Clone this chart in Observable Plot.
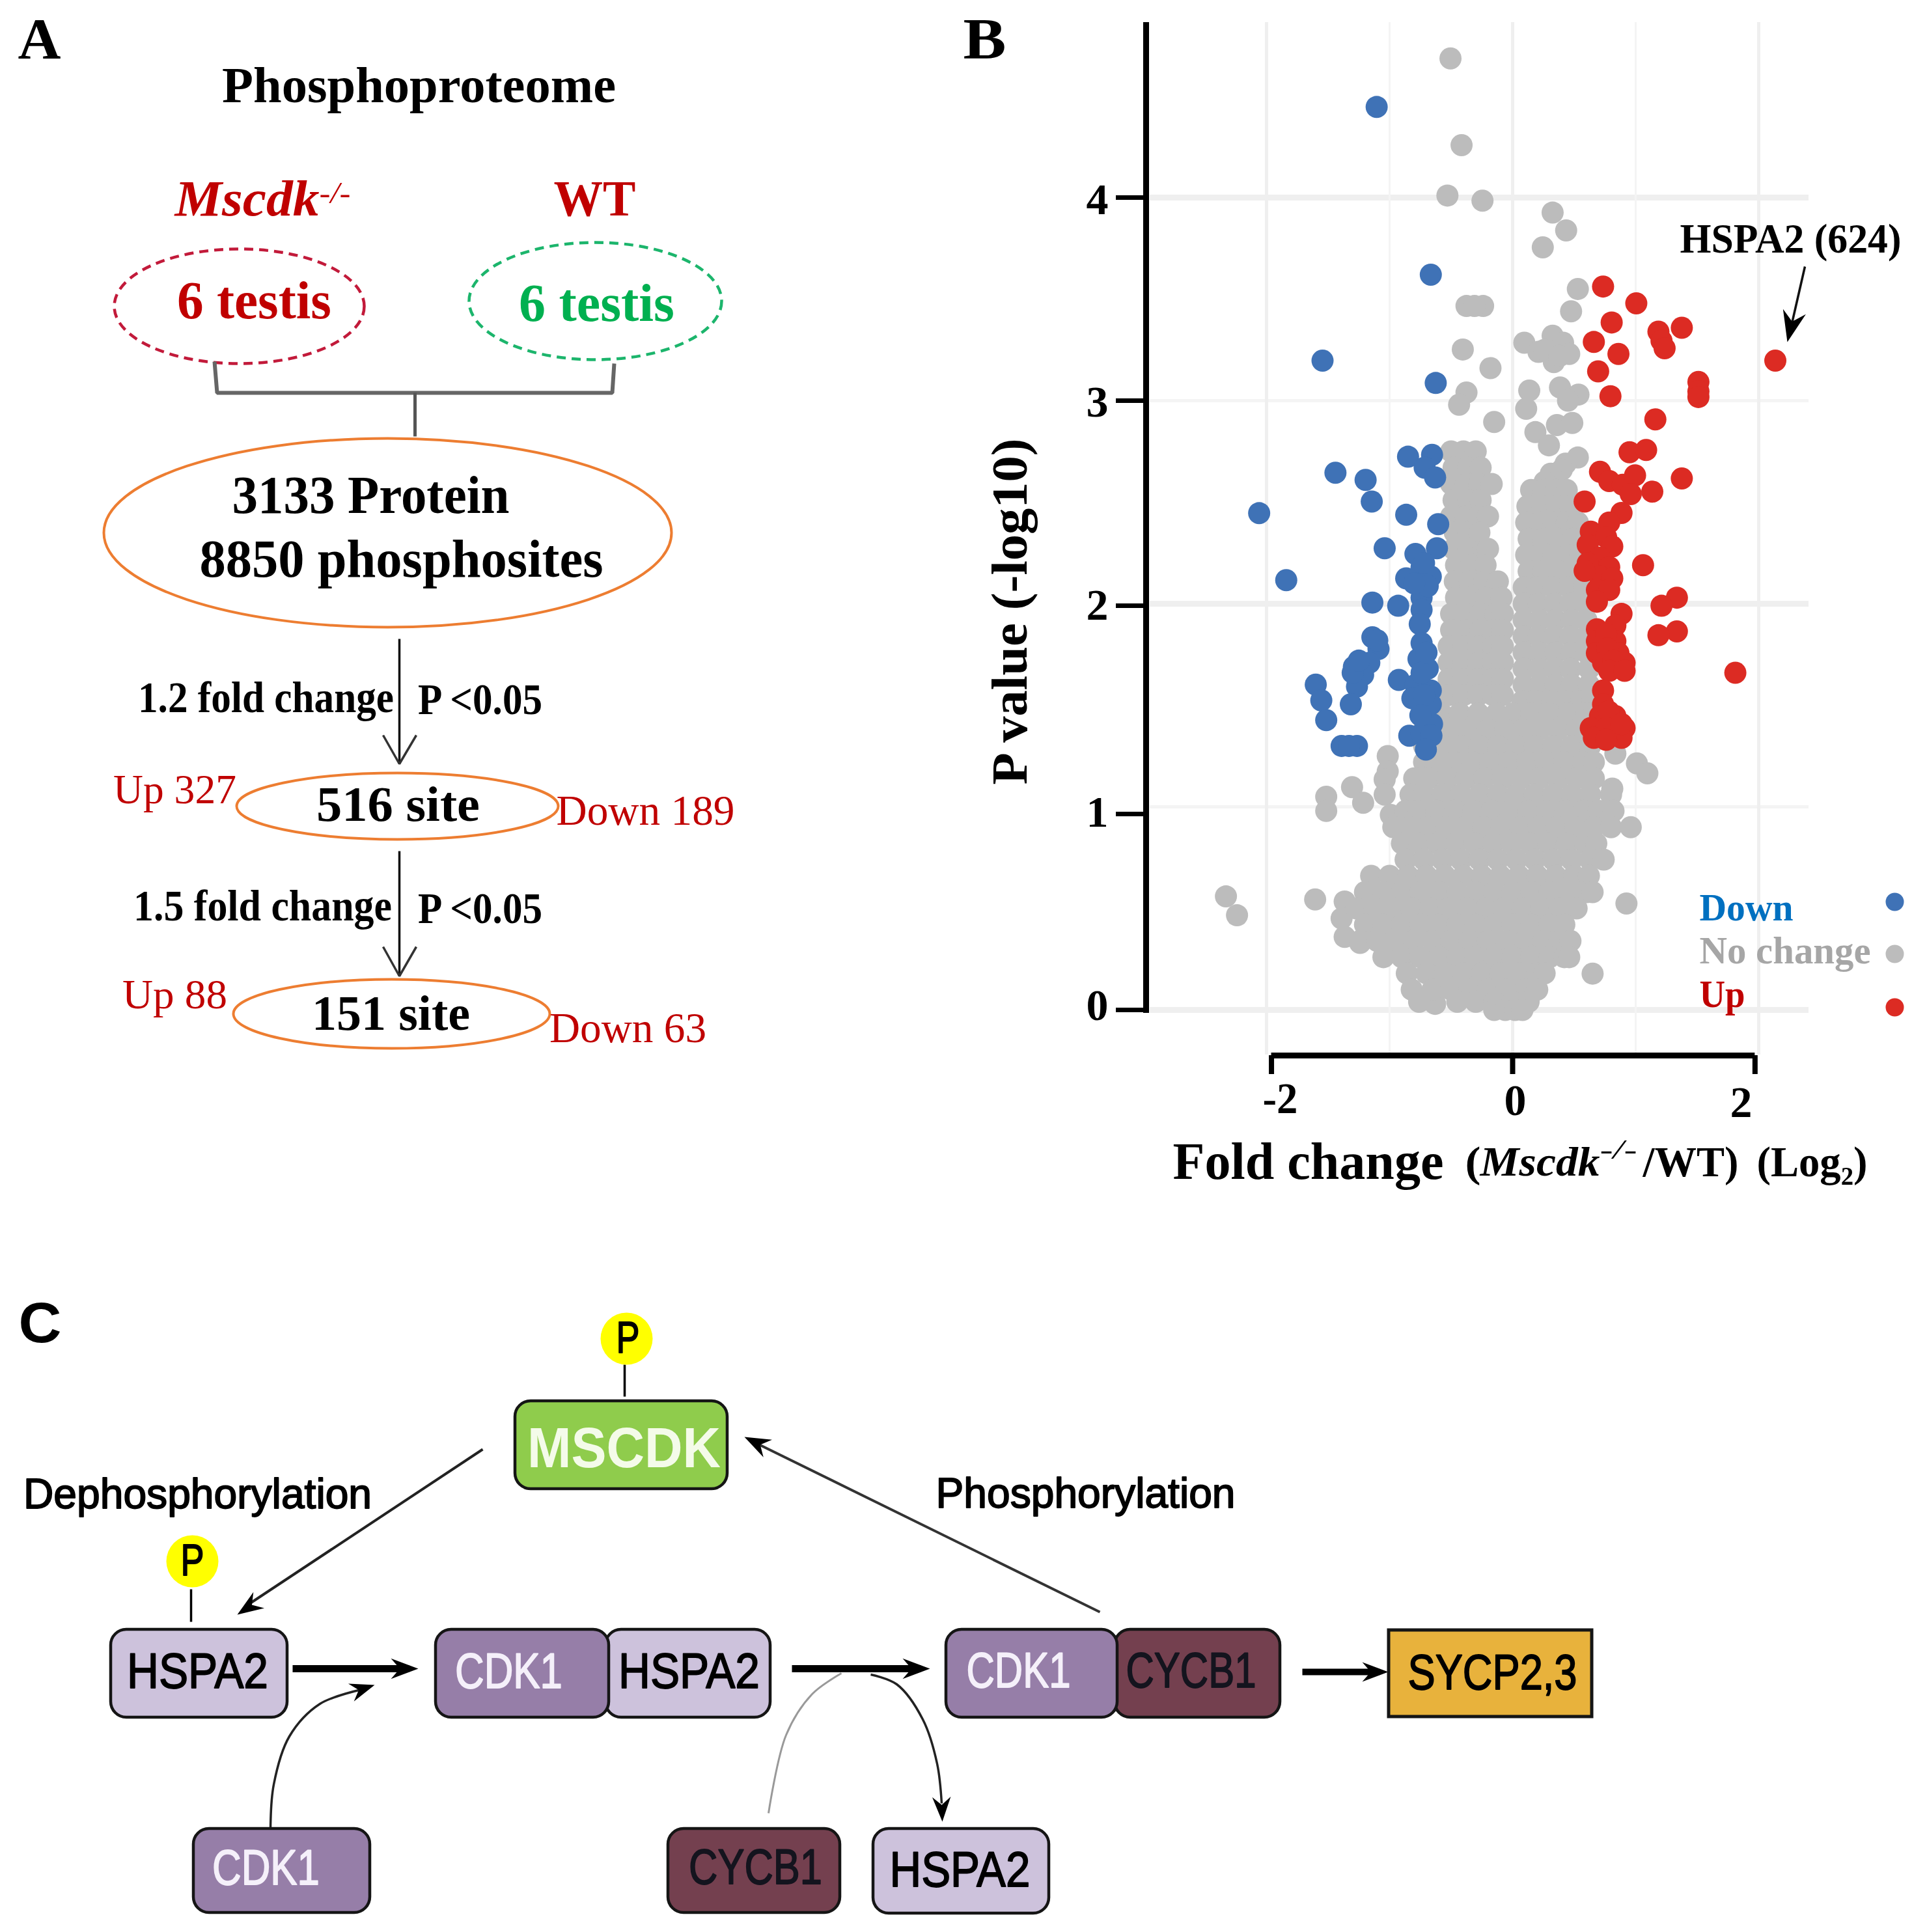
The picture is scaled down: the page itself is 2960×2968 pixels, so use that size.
<!DOCTYPE html>
<html>
<head>
<meta charset="utf-8">
<script src="https://cdn.jsdelivr.net/npm/d3@7"></script>
<script src="https://cdn.jsdelivr.net/npm/@observablehq/plot@0.6"></script>
<style>
html,body{margin:0;padding:0;background:#fff}
svg{display:block}
</style>
</head>
<body>
<div id="chart"></div>
<script>
// ---------- volcano values: [log2 fold change, -log10 P] ----------
const downSites = [[-1.105,4.446],[-0.665,3.62],[-1.545,3.197],[-0.625,3.087],[-0.85,2.724],[-0.655,2.733],[-0.715,2.67],[-0.63,2.622],[-1.44,2.645],[-1.195,2.61],[-1.145,2.503],[-2.06,2.446],[-0.865,2.438],[-0.605,2.392],[-0.615,2.273],[-1.04,2.273],[-0.79,2.245],[-0.74,2.18],[-0.865,2.125],[-0.665,2.134],[-1.84,2.116],[-1.14,2.006],[-0.93,1.99],[-0.74,2.03],[-0.69,2.087],[-0.74,1.97],[-0.755,1.9],[-1.14,1.835],[-1.09,1.777],[-0.74,1.806],[-0.765,1.728],[-0.69,1.68],[-1.29,1.69],[-1.165,1.709],[-1.215,1.65],[-1.265,1.592],[-1.315,1.505],[-1.6,1.602],[-1.555,1.524],[-1.515,1.427],[-1.39,1.3],[-1.265,1.3],[-1.33,1.3],[-0.925,1.625],[-0.79,1.6],[-0.665,1.573],[-0.815,1.534],[-0.665,1.505],[-0.72,1.55],[-0.655,1.408],[-0.84,1.35],[-0.74,1.36],[-0.66,1.35],[-0.705,1.282],[-1.3,1.66],[-1.25,1.72],[-1.1,1.82],[-0.74,1.66],[-0.75,1.45],[-0.7,1.76],[-0.8,2.1],[-0.72,2.2]];
const upSites = [[0.735,3.562],[1.005,3.479],[0.805,3.385],[1.185,3.34],[1.375,3.359],[0.66,3.289],[1.21,3.295],[1.235,3.258],[0.86,3.23],[0.695,3.144],[2.135,3.197],[1.51,3.092],[1.51,3.046],[1.51,3.018],[0.795,3.022],[1.16,2.908],[0.95,2.746],[1.085,2.757],[1.375,2.617],[0.71,2.65],[0.785,2.604],[0.895,2.586],[0.995,2.632],[0.96,2.54],[1.135,2.552],[0.585,2.503],[0.885,2.447],[0.785,2.4],[0.635,2.355],[0.76,2.328],[0.81,2.282],[0.61,2.29],[0.71,2.227],[0.61,2.199],[0.785,2.18],[1.06,2.19],[0.71,2.134],[0.585,2.162],[0.81,2.125],[0.685,2.068],[0.785,2.068],[1.335,2.03],[1.21,1.99],[0.885,1.95],[0.685,2.01],[0.835,1.893],[0.685,1.874],[1.335,1.864],[1.185,1.845],[0.685,1.816],[0.835,1.816],[0.76,1.85],[0.685,1.757],[0.86,1.757],[0.77,1.78],[0.735,1.709],[0.91,1.709],[0.82,1.72],[0.785,1.67],[0.91,1.67],[1.81,1.66],[0.735,1.573],[0.735,1.505],[0.71,1.447],[0.835,1.447],[0.78,1.47],[0.635,1.388],[0.91,1.388],[0.76,1.388],[0.66,1.34],[0.885,1.34],[0.76,1.33],[0.885,1.408]];
const noChangeScattered = [[-0.505,4.685],[-0.415,4.258],[-0.53,4.01],[-0.245,3.985],[0.325,3.926],[0.435,3.838],[0.245,3.755],[0.53,3.55],[0.475,3.44],[-0.375,3.466],[-0.24,3.466],[-0.31,3.466],[-0.405,3.252],[-0.18,3.16],[0.095,3.285],[0.21,3.24],[0.325,3.32],[0.41,3.285],[0.46,3.23],[0.335,3.19],[0.26,3.25],[0.38,3.22],[0.385,3.065],[0.535,3.03],[0.45,3.0],[0.135,3.05],[0.11,2.96],[-0.375,3.04],[-0.435,2.98],[-0.15,2.895],[0.185,2.845],[0.36,2.88],[0.485,2.89],[0.295,2.78],[0.53,2.72],[0.43,2.69],[0.4,2.66],[0.31,2.64],[0.26,2.6],[-2.33,0.559],[-2.24,0.466],[-1.605,0.544],[-1.365,0.534],[-1.39,0.45],[-1.365,0.36],[-1.24,0.33],[-1.515,1.05],[-1.515,0.98],[-1.305,1.097],[-1.215,1.02],[-1.015,1.25],[-1.015,1.175],[-1.04,1.135],[-1.04,1.06],[-0.99,0.96],[0.925,0.524],[0.65,0.179],[0.835,1.262],[1.01,1.214],[1.095,1.165],[0.81,1.09],[-0.63,0.03]];
const noChangeRows = [
[2.75,-0.5,-0.4,-0.3],[2.67,-0.48,-0.36,-0.26],[2.59,-0.5,-0.38,-0.27,-0.17],[2.51,-0.48,-0.36,-0.26],[2.43,-0.5,-0.38,-0.28,-0.2],[2.35,-0.47,-0.36,-0.27],[2.27,-0.48,-0.36,-0.24,-0.2],[2.19,-0.46,-0.34,-0.22],[2.11,-0.47,-0.35,-0.23,-0.12],[2.03,-0.46,-0.34,-0.22,-0.09],[1.95,-0.5,-0.38,-0.26,-0.14,-0.08],[1.87,-0.5,-0.38,-0.26,-0.16,-0.08],[1.79,-0.52,-0.4,-0.28,-0.16,-0.08],[1.71,-0.52,-0.4,-0.28,-0.16,-0.08],[1.63,-0.52,-0.4,-0.28,-0.16,-0.08],[1.55,-0.52,-0.4,-0.28,-0.16,-0.08],
[2.56,0.15,0.25,0.35,0.44],[2.48,0.12,0.24,0.36,0.47],[2.4,0.11,0.22,0.33,0.44,0.53],[2.32,0.13,0.25,0.37,0.49],[2.24,0.11,0.22,0.33,0.44,0.55],[2.16,0.13,0.25,0.37,0.49,0.56],[2.08,0.09,0.2,0.33,0.46,0.58],[2.0,0.09,0.21,0.34,0.47,0.6],[1.92,0.09,0.22,0.35,0.48,0.6],[1.84,0.09,0.21,0.34,0.47,0.6],[1.76,0.09,0.22,0.35,0.48,0.6],[1.68,0.09,0.21,0.34,0.47,0.62],[1.6,0.09,0.22,0.35,0.48,0.62],[1.52,0.08,0.2,0.32,0.44,0.56,0.65],
[1.46,-0.7,-0.58,-0.43,-0.28,-0.13,0.01,0.15,0.3,0.45,0.6,0.66],[1.38,-0.72,-0.65,-0.5,-0.35,-0.2,-0.06,0.08,0.22,0.37,0.52,0.65],[1.3,-0.72,-0.57,-0.42,-0.27,-0.12,0.03,0.18,0.33,0.48,0.63],[1.22,-0.72,-0.63,-0.48,-0.33,-0.18,-0.03,0.12,0.27,0.42,0.57,0.66],[1.14,-0.8,-0.68,-0.53,-0.38,-0.23,-0.08,0.07,0.22,0.37,0.52,0.66],[1.06,-0.83,-0.72,-0.57,-0.42,-0.27,-0.12,0.03,0.18,0.33,0.48,0.63,0.8],[0.98,-0.87,-0.77,-0.62,-0.47,-0.32,-0.17,-0.02,0.13,0.28,0.43,0.58,0.7,0.82],[0.9,-0.97,-0.84,-0.69,-0.54,-0.39,-0.24,-0.09,0.06,0.21,0.36,0.51,0.66,0.8,0.96],[0.82,-0.9,-0.76,-0.61,-0.46,-0.31,-0.16,-0.01,0.14,0.29,0.44,0.59,0.68],[0.74,-0.87,-0.72,-0.57,-0.42,-0.27,-0.12,0.03,0.18,0.33,0.48,0.63,0.74],[0.66,-1.15,-1.0,-0.85,-0.7,-0.55,-0.4,-0.25,-0.1,0.05,0.2,0.35,0.5,0.62],[0.58,-1.2,-1.05,-0.9,-0.75,-0.6,-0.45,-0.3,-0.15,0,0.15,0.3,0.45,0.6,0.65],[0.5,-1.27,-1.12,-0.97,-0.82,-0.67,-0.52,-0.37,-0.22,-0.07,0.08,0.23,0.38,0.52],[0.42,-1.2,-1.05,-0.9,-0.75,-0.6,-0.45,-0.3,-0.15,0,0.15,0.3,0.42],[0.34,-1.24,-1.1,-0.95,-0.8,-0.65,-0.5,-0.35,-0.2,-0.05,0.1,0.25,0.38,0.47],[0.26,-1.05,-0.9,-0.75,-0.6,-0.45,-0.3,-0.15,0,0.15,0.3,0.42,0.46],[0.18,-0.86,-0.7,-0.55,-0.4,-0.25,-0.1,0.05,0.2,0.26],[0.1,-0.82,-0.65,-0.5,-0.35,-0.2,-0.05,0.1,0.2],[0.04,-0.76,-0.45,-0.3,-0.15,0,0.13],[0,-0.15,-0.06,0.02,0.08]
];
const noChangeSites = noChangeScattered.concat(noChangeRows.flatMap(([y,...xs]) => xs.map(x => [x,y])));

const gridMajorX = [-2,0,2], gridMinorX = [-1,1];
const gridMajorY = [0,2,4], gridMinorY = [1,3];
const xTickLabels = ["-2","0","2"], yTickLabels = ["0","1","2","3","4"];
const xTickAt = [-1.96,0,1.97], yTickAt = [0,0.965,1.99,3,4];

// ---------- words ----------
const panelLetters = ["A","B","C"];
const flowWords = ["Phosphoproteome","Mscdk","-/-","WT","6 testis","3133 Protein","8850 phosphosites","1.2 fold change","1.5 fold change","P <0.05","Up 327","516 site","Down 189","Up 88","151 site","Down 63"];
const legendWords = ["Down","No change","Up"];
const volcanoWords = ["HSPA2 (624)","P value (-log10)","Fold change","(","Mscdk","-/-","/WT)","(Log\u2082)"];
const pathwayWords = ["MSCDK","HSPA2","CDK1","CYCB1","SYCP2,3","P","Dephosphorylation","Phosphorylation"];

// ---------- page layout: the sheet is laid out in page pixels, the volcano in its own units ----------
const W = 2960, H = 2968;
const X = px => (px - 2323) / 189, Y = py => (1551 - py) / 312;
const serif = "Liberation Serif", sans = "Liberation Sans";
const red = "#c00000", green = "#00b050", orange = "#ed7d31";
const blue = "#3f72b6", dotRed = "#dc2b23", gray = "#bcbcbc";
const lilac = "#cdc2dc", purple = "#967ea8", plum = "#74404f";
const yLabelAt = [1545,1248,930,618,307];

const stealth = {draw(c, size) {
  const r = Math.sqrt(size / Math.PI);
  c.moveTo(0,0); c.lineTo(r*0.75,r*2); c.lineTo(0,r*1.35); c.lineTo(-r*0.75,r*2); c.closePath();
}};
const ellipse = (rx, ry) => ({draw(c) {
  const k = 0.5523;
  c.moveTo(rx,0);
  c.bezierCurveTo(rx,k*ry,k*rx,ry,0,ry);
  c.bezierCurveTo(-k*rx,ry,-rx,k*ry,-rx,0);
  c.bezierCurveTo(-rx,-k*ry,-k*rx,-ry,0,-ry);
  c.bezierCurveTo(k*rx,-ry,rx,-k*ry,rx,0);
  c.closePath();
}});

const widths = [];
function label(text, x, y, w, size, o = {}) {
  widths.push(w);
  const fill = o.fill || "#000";
  return Plot.text([text], {
    text: d => d, x: {transform: () => [X(x)]}, y: {transform: () => [Y(y)]},
    fontSize: size, fontFamily: o.family || serif, fontWeight: o.weight || "bold", fontStyle: o.style || "normal",
    fill, stroke: o.thick ? fill : "none", strokeWidth: o.thick || 0,
    textAnchor: o.anchor || "middle", lineAnchor: "middle", rotate: o.rotate || 0
  });
}
const word = (fill) => ({family: sans, weight: "normal", thick: 1.8, fill});
const oval = (cx, cy, rx, ry, stroke, sw, dash) => Plot.dot([0], {
  x: () => X(cx), y: () => Y(cy), r: 1, symbol: ellipse(rx, ry), stroke, strokeWidth: sw, fill: "none", strokeDasharray: dash
});
const path = (pts, stroke, sw, curve = "linear") => Plot.line(pts, {
  x: d => X(d[0]), y: d => Y(d[1]), stroke, strokeWidth: sw, curve, strokeLinecap: "butt", strokeLinejoin: "miter"
});
const head = (x, y, fromX, fromY, r, fill = "#000") => Plot.dot([0], {
  x: () => X(x), y: () => Y(y), r, symbol: stealth, fill, stroke: "none",
  rotate: () => Math.atan2(x - fromX, fromY - y) * 180 / Math.PI
});
const box = (x1, x2, y1, y2, fill, rx = 24) => Plot.rect([0], {
  x1: () => X(x1), x2: () => X(x2), y1: () => Y(y1), y2: () => Y(y2), fill, stroke: "#151515", strokeWidth: 4.5, rx, inset: 0
});
const sites = (data, fill, r) => Plot.dot(data, {x: d => d[0], y: d => d[1], r, fill, stroke: "none"});

const marks = [
  // panel A
  label(panelLetters[0], 60, 60, 66, 88),
  label(flowWords[0], 643, 132, 605, 78),
  label(flowWords[1], 268, 306, 222, 78, {anchor: "start", style: "italic", fill: red}),
  label(flowWords[2], 490, 297, 48, 46, {anchor: "start", style: "italic", weight: "normal", fill: red}),
  label(flowWords[3], 913, 306, 126, 78, {fill: red}),
  oval(367, 470, 192, 88, "#c21a3a", 4.5, "14 9"),
  oval(914, 462, 194, 90, "#1cb56c", 4.5, "14 9"),
  label(flowWords[4], 390, 462, 237, 82, {fill: red}),
  label(flowWords[4], 916, 466, 239, 82, {fill: green}),
  path([[329,555],[333,603],[940,603],[943,558]], "#666", 6),
  path([[637,603],[637,670]], "#555", 5),
  oval(595, 818, 436, 145, orange, 4),
  label(flowWords[5], 569, 761, 426, 82),
  label(flowWords[6], 616, 859, 620, 82),
  path([[613,981],[613,1173]], "#111", 3.5),
  path([[588,1129],[613,1173],[639,1129]], "#333", 3.5),
  label(flowWords[7], 408, 1072, 393, 68),
  label(flowWords[9], 737, 1075, 191, 68),
  label(flowWords[10], 268, 1213, 189, 64, {weight: "normal", fill: red}),
  oval(610, 1238, 247, 51, orange, 4),
  label(flowWords[11], 611, 1236, 251, 76),
  label(flowWords[12], 991, 1245, 274, 66, {weight: "normal", fill: red}),
  path([[613,1307],[613,1499]], "#111", 3.5),
  path([[588,1454],[613,1499],[639,1454]], "#333", 3.5),
  label(flowWords[8], 403, 1392, 397, 68),
  label(flowWords[9], 737, 1396, 191, 68),
  label(flowWords[13], 268, 1528, 161, 64, {weight: "normal", fill: red}),
  oval(601, 1557, 243, 53, orange, 4),
  label(flowWords[14], 600, 1557, 243, 76),
  label(flowWords[15], 964, 1579, 241, 66, {weight: "normal", fill: red}),

  // panel B: grid
  Plot.ruleY(gridMajorY, {y: d => d, x1: X(1766), x2: X(2778), stroke: "#efefef", strokeWidth: 9}),
  Plot.ruleY(gridMinorY, {y: d => d, x1: X(1766), x2: X(2778), stroke: "#f4f4f4", strokeWidth: 5}),
  Plot.ruleX(gridMajorX, {x: d => d, y1: Y(34), y2: Y(1620), stroke: "#efefef", strokeWidth: 5}),
  Plot.ruleX(gridMinorX, {x: d => d, y1: Y(34), y2: Y(1620), stroke: "#f4f4f4", strokeWidth: 3}),
  // panel B: axes
  Plot.ruleX([X(1760)], {y1: Y(34), y2: Y(1556), stroke: "#000", strokeWidth: 9}),
  Plot.ruleY(yTickAt, {y: d => d, x1: X(1714), x2: X(1756), stroke: "#000", strokeWidth: 7}),
  Plot.ruleY([Y(1621)], {x1: xTickAt[0], x2: xTickAt[2], stroke: "#000", strokeWidth: 9}),
  Plot.ruleX(xTickAt, {x: d => d, y1: Y(1621), y2: Y(1650), stroke: "#000", strokeWidth: 8}),
  // panel B: points
  sites(noChangeSites, gray, 17),
  sites(downSites, blue, 17),
  sites(upSites, dotRed, 17),
  // panel B: words
  label(panelLetters[1], 1512, 60, 66, 88),
  ...yTickLabels.map((t, i) => label(t, 1685, yLabelAt[i], 34, 68)),
  label(xTickLabels[0], 1966, 1688, 54, 68),
  label(xTickLabels[1], 2327, 1691, 34, 68),
  label(xTickLabels[2], 2674, 1694, 34, 68),
  label(volcanoWords[0], 2580, 367, 340, 64, {anchor: "start"}),
  path([[2772,409],[2750,505]], "#111", 3.5),
  head(2745, 525, 2772, 409, 24),
  label(volcanoWords[1], 1552, 939, 532, 78, {rotate: -90}),
  label(volcanoWords[2], 1801, 1785, 416, 80, {anchor: "start"}),
  label(volcanoWords[3], 2250, 1785, 24, 66, {anchor: "start"}),
  label(volcanoWords[4], 2273, 1785, 184, 64, {anchor: "start", style: "italic"}),
  label(volcanoWords[5], 2457, 1766, 57, 42, {anchor: "start", style: "italic", weight: "normal"}),
  label(volcanoWords[6], 2523, 1785, 147, 66, {anchor: "start"}),
  label(volcanoWords[7], 2698, 1785, 170, 66, {anchor: "start"}),
  label(legendWords[0], 2610, 1394, 144, 60, {anchor: "start", fill: "#0070c0"}),
  label(legendWords[1], 2610, 1460, 263, 60, {anchor: "start", fill: "#a6a6a6"}),
  label(legendWords[2], 2610, 1527, 70, 60, {anchor: "start", fill: red}),
  Plot.dot([0,1,2], {x: () => X(2910), y: (d,i) => Y([1385,1465,1547][i]), r: 14, fill: (d,i) => [blue,gray,dotRed][i], stroke: "none"}),

  // panel C
  label(panelLetters[2], 61, 2033, 66, 88, {family: sans}),
  path([[959,2096],[959,2145]], "#000", 3.5),
  Plot.dot([0], {x: () => X(962), y: () => Y(2056), r: 40, fill: "#ffff00", stroke: "none"}),
  label(pathwayWords[5], 964, 2056, 36, 68, word("#000")),
  box(791, 1117, 2152, 2287, "#8fcc4c"),
  label(pathwayWords[0], 958, 2225, 297, 88, {family: sans, fill: "#f4fbe9"}),
  label(pathwayWords[6], 303, 2296, 535, 64, word("#000")),
  path([[741,2226],[380,2465]], "#222", 4),
  head(364, 2480, 741, 2226, 20),
  path([[1689,2476],[1160,2216]], "#333", 4),
  head(1143, 2207, 1689, 2476, 20),
  label(pathwayWords[7], 1667, 2295, 460, 64, word("#000")),
  path([[293,2441],[293,2491]], "#000", 3.5),
  Plot.dot([0], {x: () => X(295), y: () => Y(2398), r: 40, fill: "#ffff00", stroke: "none"}),
  label(pathwayWords[5], 295, 2398, 36, 68, word("#000")),
  box(170, 441, 2503, 2638, lilac),
  label(pathwayWords[1], 303, 2568, 217, 76, word("#000")),
  path([[449,2563],[628,2563]], "#000", 11),
  head(642, 2563, 449, 2563, 21),
  box(930, 1183, 2503, 2638, lilac),
  box(669, 935, 2503, 2638, purple),
  label(pathwayWords[2], 781, 2568, 165, 76, word("#f5f0fa")),
  label(pathwayWords[1], 1058, 2568, 217, 76, word("#000")),
  path([[1216,2563],[1414,2563]], "#000", 11),
  head(1428, 2563, 1216, 2563, 21),
  box(1712, 1966, 2503, 2638, plum),
  box(1453, 1716, 2503, 2638, purple),
  label(pathwayWords[2], 1564, 2567, 160, 76, word("#f5f0fa")),
  label(pathwayWords[3], 1829, 2567, 200, 76, word("#14141e")),
  path([[2000,2568],[2118,2568]], "#000", 10),
  head(2132, 2568, 2000, 2568, 20),
  Plot.rect([0], {x1: () => X(2133), x2: () => X(2445), y1: () => Y(2504), y2: () => Y(2637), fill: "#e8b23c", stroke: "#151515", strokeWidth: 5}),
  label(pathwayWords[4], 2292, 2570, 260, 76, word("#000")),
  path([[415,2809],[420,2741],[444,2667],[491,2617],[555,2595]], "#222", 3.5, "catmull-rom"),
  head(575, 2588, 500, 2612, 19),
  path([[1180,2785],[1207,2665],[1247,2602],[1292,2570]], "#999", 3, "catmull-rom"),
  path([[1337,2572],[1377,2587],[1417,2641],[1439,2709],[1446,2770]], "#222", 3.5, "catmull-rom"),
  head(1447, 2798, 1445, 2740, 19),
  box(297, 568, 2809, 2938, purple),
  label(pathwayWords[2], 408, 2870, 165, 76, word("#f5f0fa")),
  box(1026, 1290, 2809, 2938, plum),
  label(pathwayWords[3], 1160, 2869, 205, 76, word("#14141e")),
  box(1341, 1611, 2809, 2939, lilac),
  label(pathwayWords[1], 1474, 2873, 216, 76, word("#000"))
];

const chart = Plot.plot({
  width: W, height: H, margin: 0,
  style: {background: "#fff", overflow: "visible"},
  x: {domain: [X(0), X(W)], range: [0, W], axis: null},
  y: {domain: [Y(0), Y(H)], range: [0, H], axis: null},
  marks
});
chart.querySelectorAll('g[aria-label="text"] text').forEach((el, i) => {
  if (widths[i]) { el.setAttribute("textLength", widths[i]); el.setAttribute("lengthAdjust", "spacingAndGlyphs"); }
});
document.getElementById("chart").append(chart);
</script>
</body>
</html>
